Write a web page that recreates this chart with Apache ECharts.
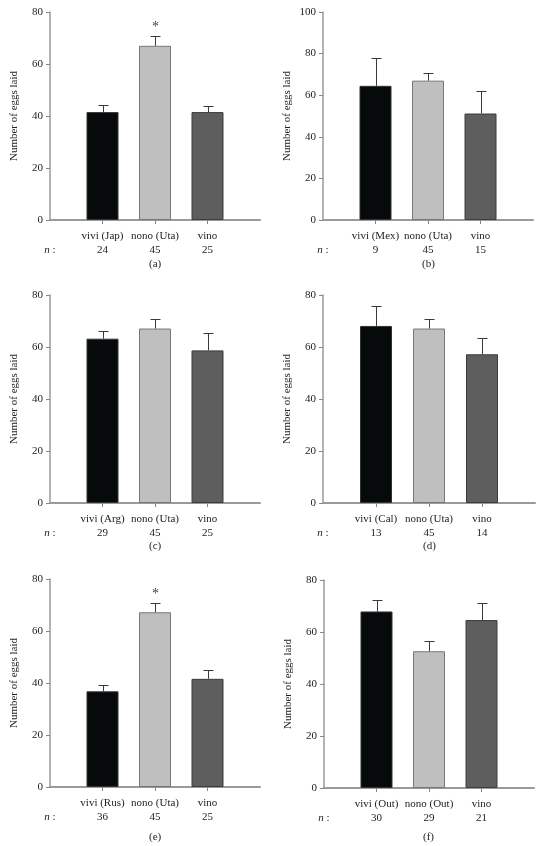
<!DOCTYPE html>
<html>
<head>
<meta charset="utf-8">
<script src="https://cdn.jsdelivr.net/npm/echarts@6/dist/echarts.min.js"></script>
<style>html,body{margin:0;padding:0;background:#fff}#c{width:546px;height:846px}</style>
</head>
<body>
<div id="c"></div>
<script>
// ---- data ----
const catsA = ['vivi (Jap)', 'nono (Uta)', 'vino'];
const nA = ['24', '45', '25'];
const meanA = [41.5, 67.0, 41.5];
const upperA = [44.3, 70.6, 44.0];
const sigA = ['', '*', ''];

const catsB = ['vivi (Mex)', 'nono (Uta)', 'vino'];
const nB = ['9', '45', '15'];
const meanB = [64.5, 67.0, 51.2];
const upperB = [78.0, 70.6, 62.2];
const sigB = ['', '', ''];

const catsC = ['vivi (Arg)', 'nono (Uta)', 'vino'];
const nC = ['29', '45', '25'];
const meanC = [63.2, 67.1, 58.7];
const upperC = [66.3, 70.6, 65.2];
const sigC = ['', '', ''];

const catsD = ['vivi (Cal)', 'nono (Uta)', 'vino'];
const nD = ['13', '45', '14'];
const meanD = [68.1, 67.1, 57.2];
const upperD = [75.7, 70.6, 63.6];
const sigD = ['', '', ''];

const catsE = ['vivi (Rus)', 'nono (Uta)', 'vino'];
const nE = ['36', '45', '25'];
const meanE = [36.8, 67.2, 41.6];
const upperE = [39.4, 70.6, 45.0];
const sigE = ['', '*', ''];

const catsF = ['vivi (Out)', 'nono (Out)', 'vino'];
const nF = ['30', '29', '21'];
const meanF = [67.9, 52.6, 64.6];
const upperF = [72.5, 56.7, 71.3];
const sigF = ['', '', ''];

const yMaxes = [80, 100, 80, 80, 80, 80];
const yInterval = 20;
const panelLabels = ['(a)', '(b)', '(c)', '(d)', '(e)', '(f)'];

// ---- layout / style ----
const FONT = 'Liberation Serif';
const barColors = ['#060a0b', '#bfbfbf', '#5e5e5e'];
const barBorders = ['#333333', '#777777', '#3c3c3c'];
const grids = [
  {left: 50, top: 12, width: 210, height: 208},
  {left: 323, top: 12, width: 210, height: 208},
  {left: 50, top: 295, width: 210, height: 208},
  {left: 323, top: 295, width: 212, height: 208},
  {left: 50, top: 579, width: 210, height: 208},
  {left: 324, top: 580, width: 210, height: 208}
];
const labelOffsets = [39, 39, 38, 38, 45, 44];
const panels = [
  [catsA, nA, meanA, upperA, sigA],
  [catsB, nB, meanB, upperB, sigB],
  [catsC, nC, meanC, upperC, sigC],
  [catsD, nD, meanD, upperD, sigD],
  [catsE, nE, meanE, upperE, sigE],
  [catsF, nF, meanF, upperF, sigF]
];

const option = {
  backgroundColor: '#fff',
  animation: false,
  textStyle: {fontFamily: FONT},
  grid: grids,
  xAxis: [], yAxis: [], series: [], graphic: []
};

panels.forEach((p, k) => {
  const [cats, ns, means, uppers, sigs] = p;
  const padded = [''].concat(cats).concat(['']);
  const nPadded = ['n'].concat(ns).concat(['']);
  option.xAxis.push({
    type: 'category', gridIndex: k, data: padded, boundaryGap: false,
    axisLine: {lineStyle: {color: '#9a9a9a', width: 2}},
    axisTick: {show: true, length: 4, interval: (i) => i > 0 && i < 4, lineStyle: {color: '#888', width: 1}},
    axisLabel: {
      interval: 0, margin: 9, color: '#222', fontFamily: FONT, fontSize: 11, lineHeight: 14,
      formatter: (v, i) => {
        if (i === 0) return ' \n{it|n} :';
        if (i === 4) return '';
        return v + '\n' + nPadded[i];
      },
      rich: {it: {fontStyle: 'italic', fontFamily: FONT, fontSize: 11, color: '#222', lineHeight: 14}}
    },
    splitLine: {show: false}
  });
  option.yAxis.push({
    type: 'value', gridIndex: k, min: 0, max: yMaxes[k], interval: yInterval,
    name: 'Number of eggs laid', nameLocation: 'middle', nameGap: 30, nameRotate: 90,
    nameTextStyle: {fontFamily: FONT, fontSize: 11, color: '#222'},
    axisLine: {show: true, lineStyle: {color: '#9a9a9a', width: 1.5}},
    axisTick: {show: true, length: 4, lineStyle: {color: '#888'}},
    axisLabel: {margin: 7, color: '#222', fontFamily: FONT, fontSize: 11},
    splitLine: {show: false}
  });
  option.series.push({
    type: 'bar', xAxisIndex: k, yAxisIndex: k, barWidth: 32,
    data: means.map((m, i) => ({
      value: [i + 1, m],
      itemStyle: {color: barColors[i], borderColor: barBorders[i], borderWidth: 1}
    }))
  });
  option.series.push({
    type: 'custom', xAxisIndex: k, yAxisIndex: k, z: 5,
    data: means.map((m, i) => [i + 1, m, uppers[i], sigs[i]]),
    renderItem: (params, api) => {
      const x = api.value(0);
      const base = api.coord([x, api.value(1)]);
      const top = api.coord([x, api.value(2)]);
      const cx = Math.round(base[0]) + 0.5;
      const ty = Math.round(top[1]) + 0.5;
      const children = [
        {type: 'line', shape: {x1: cx, y1: base[1], x2: cx, y2: ty}, style: {stroke: '#3a3a3a', lineWidth: 1}},
        {type: 'line', shape: {x1: cx - 5, y1: ty, x2: cx + 5, y2: ty}, style: {stroke: '#3a3a3a', lineWidth: 1}}
      ];
      const s = sigs[params.dataIndex];
      if (s) {
        children.push({type: 'text', style: {text: s, x: cx, y: ty - 2, textAlign: 'center', textVerticalAlign: 'bottom', font: '14px ' + FONT, fill: '#444'}});
      }
      return {type: 'group', children: children};
    }
  });
  const g = grids[k];
  option.graphic.push({
    type: 'text', left: g.left + g.width / 2 - 6, top: g.top + g.height + labelOffsets[k],
    style: {text: panelLabels[k], font: '11px ' + FONT, fill: '#222'}
  });
});

const chart = echarts.init(document.getElementById('c'), null, {renderer: 'canvas'});
chart.setOption(option);
</script>
</body>
</html>
